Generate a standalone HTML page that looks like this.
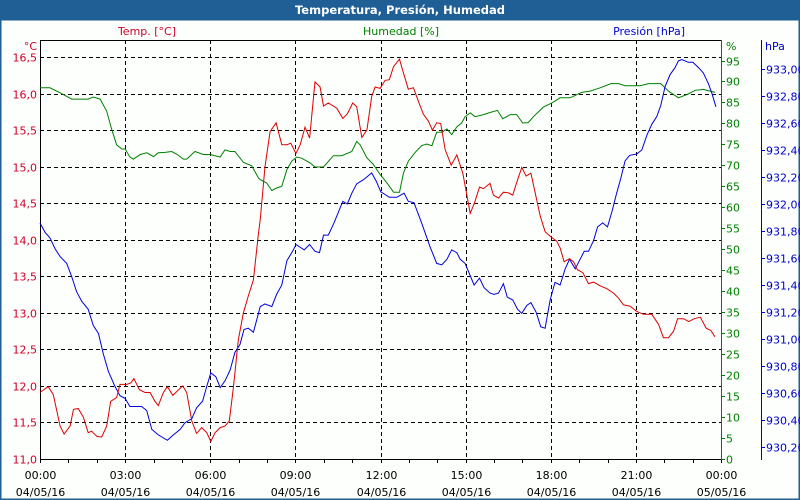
<!DOCTYPE html>
<html><head><meta charset="utf-8"><style>
body{margin:0;background:#fff;}
svg{display:block;font-family:"DejaVu Sans","Liberation Sans",sans-serif;font-size:11px;}
</style></head><body>
<svg id="chart" width="800" height="500" viewBox="0 0 800 500">
<rect x="0" y="0" width="800" height="500" fill="#fcfffc"/>
<rect x="0" y="0" width="800" height="20" fill="#1f5f96"/>
<rect x="0.5" y="19.5" width="799" height="480" fill="none" stroke="#1f5f96" stroke-width="2"/>
<text x="400" y="14" text-anchor="middle" fill="#fff" font-weight="bold" font-size="11.5">Temperatura, Presión, Humedad</text>
<text x="147" y="35" text-anchor="middle" fill="#d0002a">Temp. [°C]</text>
<text x="401" y="35" text-anchor="middle" fill="#008000">Humedad [%]</text>
<text x="685" y="35" text-anchor="end" fill="#0000c8">Presión [hPa]</text>
<text x="37" y="50" text-anchor="end" fill="#d0002a">°C</text>
<text x="726" y="50" fill="#008000">%</text>
<text x="765" y="50" fill="#0000c8">hPa</text>
<g id="grid"></g>
<g id="axes"></g>
<g id="series"></g>
</svg>
<script>
const tempHours=[0,.29,.47,.71,.85,1.06,1.18,1.35,1.53,1.70,1.82,2.00,2.17,2.35,2.49,2.70,2.82,3.06,3.20,3.31,3.50,3.70,3.88,4.05,4.17,4.35,4.49,4.68,4.84,5.03,5.17,5.35,5.52,5.70,5.88,6.02,6.17,6.35,6.52,6.67,6.82,6.99,7.17,7.34,7.52,7.70,7.76,7.93,8.11,8.32,8.52,8.70,8.84,9.02,9.17,9.34,9.50,9.69,9.87,9.99,10.16,10.46,10.67,10.83,11.02,11.16,11.34,11.52,11.69,11.81,11.99,12.16,12.31,12.46,12.67,12.81,12.98,13.16,13.34,13.51,13.69,13.83,13.98,14.12,14.28,14.49,14.69,14.90,15.16,15.31,15.49,15.63,15.86,15.98,16.16,16.33,16.51,16.66,16.83,16.98,17.13,17.30,17.48,17.63,17.80,18.00,18.21,18.33,18.47,18.66,18.80,18.94,19.13,19.33,19.51,19.74,19.98,20.21,20.39,20.56,20.80,21.03,21.27,21.56,21.80,21.97,22.15,22.33,22.47,22.68,22.86,23.06,23.27,23.48,23.64,23.79];
const tempValues=[11.91,11.99,11.88,11.45,11.34,11.45,11.68,11.69,11.57,11.36,11.38,11.31,11.30,11.45,11.79,11.84,12.02,12.02,12.04,12.10,11.95,11.91,11.91,11.79,11.73,11.91,11.99,11.87,11.93,12.00,11.91,11.52,11.35,11.43,11.36,11.24,11.36,11.43,11.45,11.52,11.99,12.63,13.00,13.23,13.45,14.09,14.27,15.00,15.48,15.60,15.30,15.30,15.32,15.18,15.30,15.54,15.39,16.16,16.09,15.83,15.87,15.80,15.66,15.72,15.87,15.82,15.40,15.50,15.96,16.09,16.07,16.18,16.19,16.37,16.47,16.28,16.06,16.08,15.89,15.72,15.62,15.50,15.60,15.59,15.23,15.02,15.16,14.91,14.36,14.50,14.72,14.70,14.77,14.61,14.57,14.65,14.64,14.61,14.82,14.99,14.87,14.91,14.59,14.32,14.11,14.04,13.98,13.89,13.70,13.74,13.70,13.59,13.55,13.40,13.42,13.37,13.33,13.27,13.20,13.11,13.09,13.02,12.98,12.98,12.84,12.66,12.66,12.75,12.92,12.92,12.88,12.92,12.94,12.79,12.76,12.67];
const humHours=[0,.35,.71,1.12,1.70,1.88,2.12,2.35,2.53,2.70,2.88,3.00,3.17,3.29,3.53,3.76,4.00,4.17,4.41,4.64,4.84,5.05,5.17,5.46,5.76,5.99,6.35,6.52,6.70,6.87,7.17,7.46,7.70,7.76,7.99,8.17,8.34,8.52,8.70,8.87,9.05,9.22,9.52,9.69,9.99,10.34,10.63,10.99,11.16,11.28,11.52,11.75,11.99,12.22,12.46,12.67,12.81,12.98,13.22,13.45,13.63,13.81,13.98,14.16,14.34,14.51,14.69,14.86,14.98,15.16,15.33,15.63,15.86,16.12,16.31,16.57,16.80,17.01,17.21,17.39,17.74,18.04,18.33,18.68,19.09,19.39,19.74,20.12,20.39,20.62,21.15,21.45,21.88,22.15,22.50,22.80,23.09,23.38,23.79];
const humValues=[88.5,88.5,87.3,85.8,85.8,86.3,85.8,82.9,78.5,74.9,73.9,73.9,72.0,71.5,72.6,73.0,72.1,73.0,73.1,73.3,72.6,71.5,71.5,73.3,72.6,72.6,72.0,73.7,73.3,73.3,70.7,69.9,67.0,66.6,65.8,64.0,64.6,65.0,69.0,71.0,72.0,71.7,70.6,69.6,69.6,72.3,72.3,73.3,75.7,74.9,71.8,70.2,67.8,65.9,63.6,63.6,68.2,71.0,73.1,74.7,75.1,74.7,77.9,77.9,78.7,77.3,79.2,80.1,81.6,82.5,81.6,82.1,82.6,83.1,81.1,82.1,82.1,80.1,80.2,81.6,83.9,84.9,86.1,86.1,87.4,87.7,88.5,89.5,89.5,89.0,89.0,89.5,89.5,87.7,86.1,86.9,87.9,88.1,87.4];
const presHours=[0,.18,.35,.53,.71,.94,1.12,1.29,1.47,1.70,1.88,2.06,2.23,2.41,2.64,2.82,3.00,3.17,3.58,3.76,3.94,4.17,4.49,4.70,4.94,5.11,5.35,5.52,5.73,5.88,6.02,6.20,6.35,6.52,6.70,6.87,7.05,7.19,7.34,7.52,7.70,7.76,7.93,8.17,8.34,8.52,8.70,8.93,9.02,9.31,9.50,9.69,9.85,9.99,10.16,10.36,10.67,10.83,10.99,11.16,11.40,11.69,11.85,12.01,12.31,12.57,12.83,12.98,13.18,13.45,13.75,13.98,14.16,14.34,14.51,14.69,14.81,14.98,15.30,15.49,15.65,15.86,16.00,16.16,16.33,16.47,16.66,16.83,16.98,17.16,17.30,17.48,17.65,17.80,17.98,18.15,18.33,18.51,18.66,18.86,19.01,19.18,19.33,19.51,19.65,19.83,20.00,20.15,20.31,20.47,20.62,20.78,21.03,21.21,21.39,21.56,21.74,21.88,22.03,22.21,22.38,22.50,22.62,22.85,23.01,23.21,23.38,23.56,23.68,23.82];
const presValues=[931.86,931.79,931.75,931.67,931.61,931.56,931.46,931.35,931.28,931.22,931.10,931.04,930.89,930.76,930.65,930.58,930.56,930.50,930.50,930.47,930.33,930.29,930.25,930.29,930.33,930.38,930.41,930.49,930.54,930.65,930.75,930.72,930.64,930.69,930.77,930.90,930.96,931.07,931.08,931.05,931.19,931.24,931.26,931.24,931.33,931.40,931.58,931.66,931.70,931.66,931.70,931.65,931.64,931.77,931.77,931.86,932.02,932.00,932.08,932.15,932.18,932.23,932.17,932.09,932.05,932.05,932.08,932.02,932.01,931.86,931.68,931.56,931.55,931.59,931.66,931.64,931.59,931.56,931.40,931.45,931.38,931.34,931.33,931.34,931.41,931.31,931.29,931.22,931.19,931.25,931.27,931.20,931.09,931.08,931.29,931.42,931.40,931.52,931.59,931.52,931.58,931.65,931.65,931.73,931.83,931.86,931.83,931.94,932.07,932.19,932.32,932.36,932.37,932.40,932.51,932.59,932.65,932.73,932.87,932.96,933.01,933.06,933.07,933.05,933.05,933.01,932.97,932.89,932.82,932.72];
const tempTicks=[11.0,11.5,12.0,12.5,13.0,13.5,14.0,14.5,15.0,15.5,16.0,16.5];
const humTicks=[0,5,10,15,20,25,30,35,40,45,50,55,60,65,70,75,80,85,90,95];
const presTicks=[930.2,930.4,930.6,930.8,931.0,931.2,931.4,931.6,931.8,932.0,932.2,932.4,932.6,932.8,933.0];
const timeTicks=[0,3,6,9,12,15,18,21,24];
const timeLabels=["00:00","03:00","06:00","09:00","12:00","15:00","18:00","21:00","00:00"];
const dateLabels=["04/05/16","04/05/16","04/05/16","04/05/16","04/05/16","04/05/16","04/05/16","04/05/16","05/05/16"];

const L=40,R=721,T=40,B=459;
const xS=h=>L+h*(R-L)/24;
const yT=t=>B-(t-11)*(B-57)/5.5;
const yH=v=>B-v*(B-60.5)/95;
const yP=p=>339-(p-931)*135;
const NS="http://www.w3.org/2000/svg";
function mk(tag,attrs,parent,txt){const e=document.createElementNS(NS,tag);for(const k in attrs)e.setAttribute(k,attrs[k]);if(txt!==undefined)e.textContent=txt;parent.appendChild(e);return e;}
const grid=document.getElementById('grid'),axes=document.getElementById('axes'),series=document.getElementById('series');
const fmt=v=>v.toFixed(2).replace('.',',');

tempTicks.forEach(t=>{const y=Math.round(yT(t))+0.5;
 const g=mk('line',{x1:L,x2:R,y1:y,y2:y,stroke:'#000','stroke-dasharray':'4,3'},grid);
 
 
 const lb=mk('text',{x:37,y:y+4,'text-anchor':'end',fill:'#d0002a'},axes,t.toFixed(1).replace('.',','));
 
 
});
timeTicks.forEach((h,i)=>{const x=Math.round(xS(h))+0.5;
 if(i>0&&i<timeTicks.length-1){const g=mk('line',{x1:x,x2:x,y1:T,y2:B,stroke:'#000','stroke-dasharray':'4,3'},grid);
 
 }
 const a=mk('text',{x:x,y:479,'text-anchor':'middle',fill:'#000'},axes,timeLabels[i]);
 
 
 const d=mk('text',{x:x,y:496,'text-anchor':'middle',fill:'#000'},axes,dateLabels[i]);
 
 
});
for(let h=0;h<=24;h++){const x=Math.round(xS(h))+0.5;
 const tk=mk('line',{x1:x,x2:x,y1:B,y2:B+4,stroke:'#000'},axes);
 
 }
humTicks.forEach(v=>{const y=Math.round(yH(v))+0.5;
 const tk=mk('line',{x1:R,x2:R+4,y1:y,y2:y,stroke:'#008000'},axes);
 
 
 const lb=mk('text',{x:726,y:y+4,fill:'#008000'},axes,String(v));
 
 
});
presTicks.forEach(p=>{const y=Math.round(yP(p))+0.5;
 const tk=mk('line',{x1:761,x2:765,y1:y,y2:y,stroke:'#0000c8'},axes);
 
 
 const lb=mk('text',{x:766,y:y+4,fill:'#0000c8'},axes,fmt(p));
 
 
});
const frame=mk('path',{d:`M${L+0.5},${T+0.5}H${R+0.5}M${L+0.5},${T}V${B+1}M${L},${B+0.5}H${R}`,stroke:'#000',fill:'none'},axes);


const ga=mk('line',{x1:R+0.5,x2:R+0.5,y1:T,y2:B+1,stroke:'#008000'},axes);


const pa=mk('line',{x1:761.5,x2:761.5,y1:T,y2:B+1,stroke:'#0000c8'},axes);



function line(hs,vs,yf,color,name){
 const d=hs.map((h,i)=>(i?'L':'M')+xS(h).toFixed(1)+','+yf(vs[i]).toFixed(1)).join('');
 const p=mk('path',{d:d,stroke:color,fill:'none','stroke-width':1},series);
 
 
}
line(humHours,humValues,yH,'#008000','humidity-line');
line(presHours,presValues,yP,'#0000dd','pressure-line');
line(tempHours,tempValues,yT,'#dd0000','temperature-line');
</script>
</body></html>
